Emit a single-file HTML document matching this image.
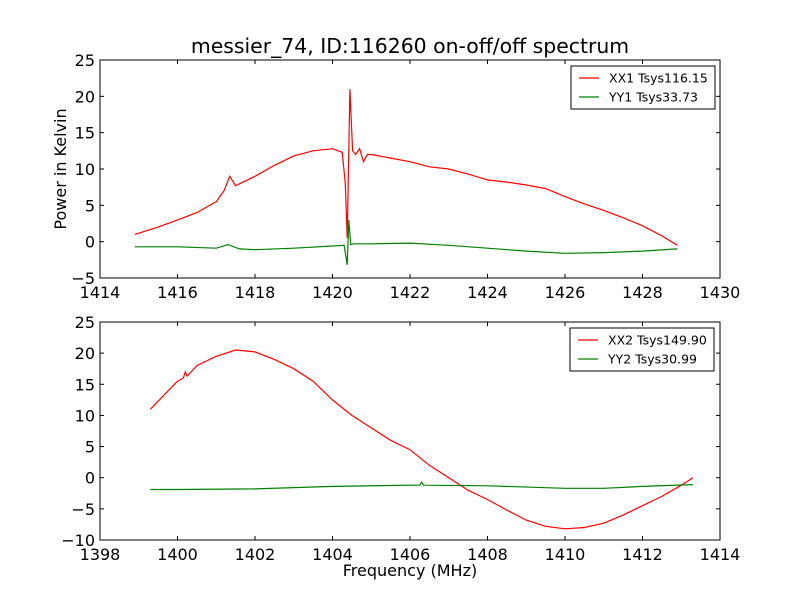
<!DOCTYPE html>
<html><head><meta charset="utf-8"><style>
body{margin:0;background:#fff}
svg{display:block;font-family:"DejaVu Sans","Liberation Sans",sans-serif}
</style></head><body>
<svg id="fig" width="800" height="600" viewBox="0 0 800 600">
<rect width="800" height="600" fill="#fff"/>
<text x="410" y="53" font-size="20.4" text-anchor="middle">messier_74, ID:116260 on-off/off spectrum</text>
<text x="410" y="576" font-size="16" text-anchor="middle">Frequency (MHz)</text>
<text transform="translate(66,169) rotate(-90)" font-size="16" text-anchor="middle">Power in Kelvin</text>
</svg>
<script>
const xx1F=[1414.9,1415.5,1416,1416.5,1417,1417.2,1417.35,1417.5,1418,1418.5,1419,1419.5,1420,1420.25,1420.33,1420.38,1420.45,1420.52,1420.6,1420.7,1420.8,1420.9,1421,1421.5,1422,1422.5,1423,1423.5,1424,1424.5,1425,1425.5,1426,1426.5,1427,1427.5,1428,1428.5,1428.9];
const xx1V=[1,2,3,4,5.5,7,9,7.7,9,10.5,11.8,12.5,12.8,12.3,8,0.5,21,12.5,12,12.8,11,12,12,11.5,11,10.3,10,9.3,8.5,8.2,7.8,7.3,6.2,5.2,4.3,3.3,2.2,0.8,-0.5];
const yy1F=[1414.9,1416,1417,1417.3,1417.6,1418,1419,1420,1420.3,1420.38,1420.42,1420.47,1420.55,1421,1422,1423,1424,1425,1426,1427,1428,1428.9];
const yy1V=[-0.7,-0.7,-0.9,-0.4,-1,-1.1,-0.9,-0.6,-0.5,-3.2,3,-0.4,-0.3,-0.3,-0.2,-0.5,-0.9,-1.3,-1.6,-1.5,-1.3,-1];
const xx2F=[1399.3,1400,1400.15,1400.2,1400.25,1400.5,1401,1401.5,1402,1402.5,1403,1403.5,1404,1404.5,1405,1405.5,1406,1406.5,1407,1407.5,1408,1408.5,1409,1409.5,1410,1410.5,1411,1411.5,1412,1412.5,1413,1413.3];
const xx2V=[11,15.5,16,17,16.3,18,19.5,20.5,20.2,19,17.5,15.5,12.5,10,8,6,4.5,2,0,-2,-3.5,-5.2,-6.8,-7.8,-8.2,-8,-7.3,-6,-4.5,-3,-1.2,0];
const yy2F=[1399.3,1400,1402,1404,1406,1406.25,1406.3,1406.35,1408,1410,1411,1412,1413.3];
const yy2V=[-1.9,-1.9,-1.8,-1.4,-1.2,-1.2,-0.7,-1.2,-1.3,-1.7,-1.7,-1.4,-1.1];
const topXT=[1414,1416,1418,1420,1422,1424,1426,1428,1430];
const topYT=[-5,0,5,10,15,20,25];
const botXT=[1398,1400,1402,1404,1406,1408,1410,1412,1414];
const botYT=[-10,-5,0,5,10,15,20,25];
const NS="http://www.w3.org/2000/svg";
const svg=document.getElementById('fig');
function mk(t,a,p){const e=document.createElementNS(NS,t);for(const k in a)e.setAttribute(k,a[k]);(p||svg).appendChild(e);return e;}
function panel(name,top,bot,xmin,xmax,ymin,ymax,xt,yt,series,legend,lx,ly){
 const L=100,R=720;
 const g=mk('g',{});
 
 
 const sx=v=>L+(v-xmin)/(xmax-xmin)*(R-L);
 const sy=v=>bot-(v-ymin)/(ymax-ymin)*(bot-top);
 series.forEach(s=>{
  const d=s.f.map((f,i)=>(i?'L':'M')+sx(f).toFixed(1)+','+sy(s.v[i]).toFixed(1)).join('');
  const p=mk('path',{d:d,fill:'none',stroke:s.c,'stroke-width':1.2},g);
  
  
 });
 const fr=mk('rect',{x:L,y:top,width:R-L,height:bot-top,fill:'none',stroke:'#000','stroke-width':1},g);
 
 
 xt.forEach(v=>{const x=sx(v);
  mk('line',{x1:x,x2:x,y1:bot,y2:bot-4,stroke:'#000'},g);
  mk('line',{x1:x,x2:x,y1:top,y2:top+4,stroke:'#000'},g);
  const t=mk('text',{x:x,y:bot+20,'font-size':16,'text-anchor':'middle'},g);t.textContent=v;
  
  
 });
 yt.forEach(v=>{const y=sy(v);
  mk('line',{x1:L,x2:L+4,y1:y,y2:y,stroke:'#000'},g);
  mk('line',{x1:R,x2:R-4,y1:y,y2:y,stroke:'#000'},g);
  const t=mk('text',{x:L-5,y:y+6,'font-size':16,'text-anchor':'end'},g);t.textContent=(v<0?'\u2212'+(-v):v);
  
  
 });
 const lg=mk('g',{},g);
 
 
 mk('rect',{x:lx,y:ly,width:144,height:43,fill:'#fff',stroke:'#000'},lg);
 legend.forEach((e,i)=>{const y=ly+12+i*19;
  mk('line',{x1:lx+8,x2:lx+28,y1:y,y2:y,stroke:e.c,'stroke-width':1.2},lg);
  const t=mk('text',{x:lx+38,y:y+4.5,'font-size':12.5},lg);t.textContent=e.t;
  
  
 });
}
panel('top-panel',60,278,1414,1430,-5,25,topXT,topYT,
 [{f:xx1F,v:xx1V,c:'#ff0000',n:'xx1-line'},{f:yy1F,v:yy1V,c:'#008000',n:'yy1-line'}],
 [{c:'#ff0000',t:'XX1 Tsys116.15'},{c:'#008000',t:'YY1 Tsys33.73'}],571,66);
panel('bottom-panel',322,540,1398,1414,-10,25,botXT,botYT,
 [{f:xx2F,v:xx2V,c:'#ff0000',n:'xx2-line'},{f:yy2F,v:yy2V,c:'#008000',n:'yy2-line'}],
 [{c:'#ff0000',t:'XX2 Tsys149.90'},{c:'#008000',t:'YY2 Tsys30.99'}],570,328);
</script>
</body></html>
